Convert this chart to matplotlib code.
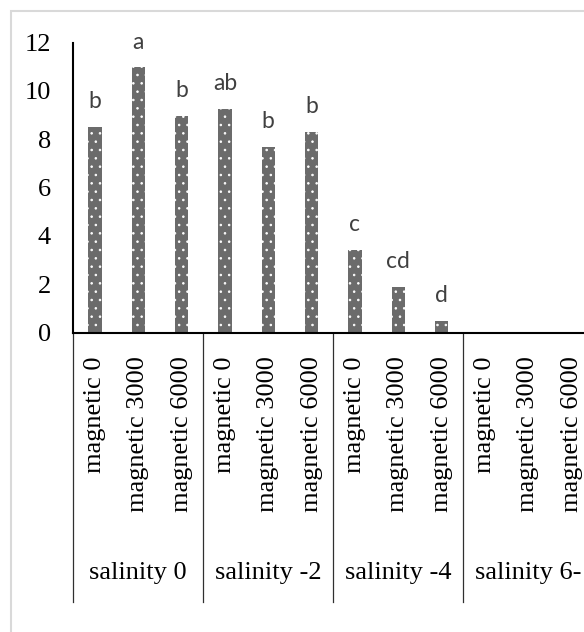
import matplotlib
matplotlib.use("Agg")
import matplotlib.pyplot as plt
from matplotlib.patches import Rectangle

groups = ["salinity 0", "salinity -2", "salinity -4", "salinity 6-"]
levels = ["magnetic 0", "magnetic 3000", "magnetic 6000"]
values = [8.51, 10.97, 8.96, 9.25, 7.69, 8.31, 3.41, 1.89, 0.49, 0, 0, 0]
letters = ["b", "a", "b", "ab", "b", "b", "c", "cd", "d", "", "", ""]

plt.rcParams["hatch.color"] = "white"
plt.rcParams["hatch.linewidth"] = 0.6

labels = [m for g in groups for m in levels]
x = list(range(len(labels)))

fig = plt.figure(figsize=(5.84, 6.32), dpi=100)
ax = fig.add_axes([73.3 / 584, 299.5 / 632, 520 / 584, 290 / 632])

bars = ax.bar(x, values, width=0.31, color="#6b6b6b", hatch="..", linewidth=0)

for i, (v, t) in enumerate(zip(values, letters)):
    if t:
        ax.annotate(t, (i, v), xytext=(0, 13.5), textcoords="offset points",
                    ha="center", va="baseline", color="#404040",
                    fontsize=16.5, fontfamily="Lato")

ax.set_xlim(-0.5, len(labels) - 0.5)
ax.set_ylim(0, 12)
ax.set_yticks(range(0, 13, 2))
ax.set_xticks(x)
ax.set_xticklabels(labels, rotation=90, fontfamily="Liberation Serif", fontsize=19)
for lab in ax.get_yticklabels():
    lab.set_fontfamily("Liberation Serif")
    lab.set_fontsize(19)
ax.tick_params(axis="y", length=0, pad=16)
ax.tick_params(axis="x", length=0, pad=17)

for s in ["top", "right"]:
    ax.spines[s].set_visible(False)
ax.spines["left"].set_linewidth(1.5)
ax.spines["bottom"].set_linewidth(1.5)

# group separators and group names under the magnetic labels
tr = ax.get_xaxis_transform()
for k in range(len(groups) + 1):
    xs = k * 3 - 0.5
    ax.plot([xs, xs], [0, -0.929], transform=tr, color="#303030", lw=0.9,
            clip_on=False)
for k, g in enumerate(groups):
    ax.text(k * 3 + 1, -0.829, g, transform=tr, ha="center", va="center",
            fontfamily="Liberation Serif", fontsize=19)

# light chart-area border
fig.patches.append(Rectangle((11 / 584, -0.1), 1.2, (632 - 11) / 632 + 0.1,
                             transform=fig.transFigure, fill=False,
                             edgecolor="#d9d9d9", lw=1.5))

fig.savefig("out.png", dpi=100)
